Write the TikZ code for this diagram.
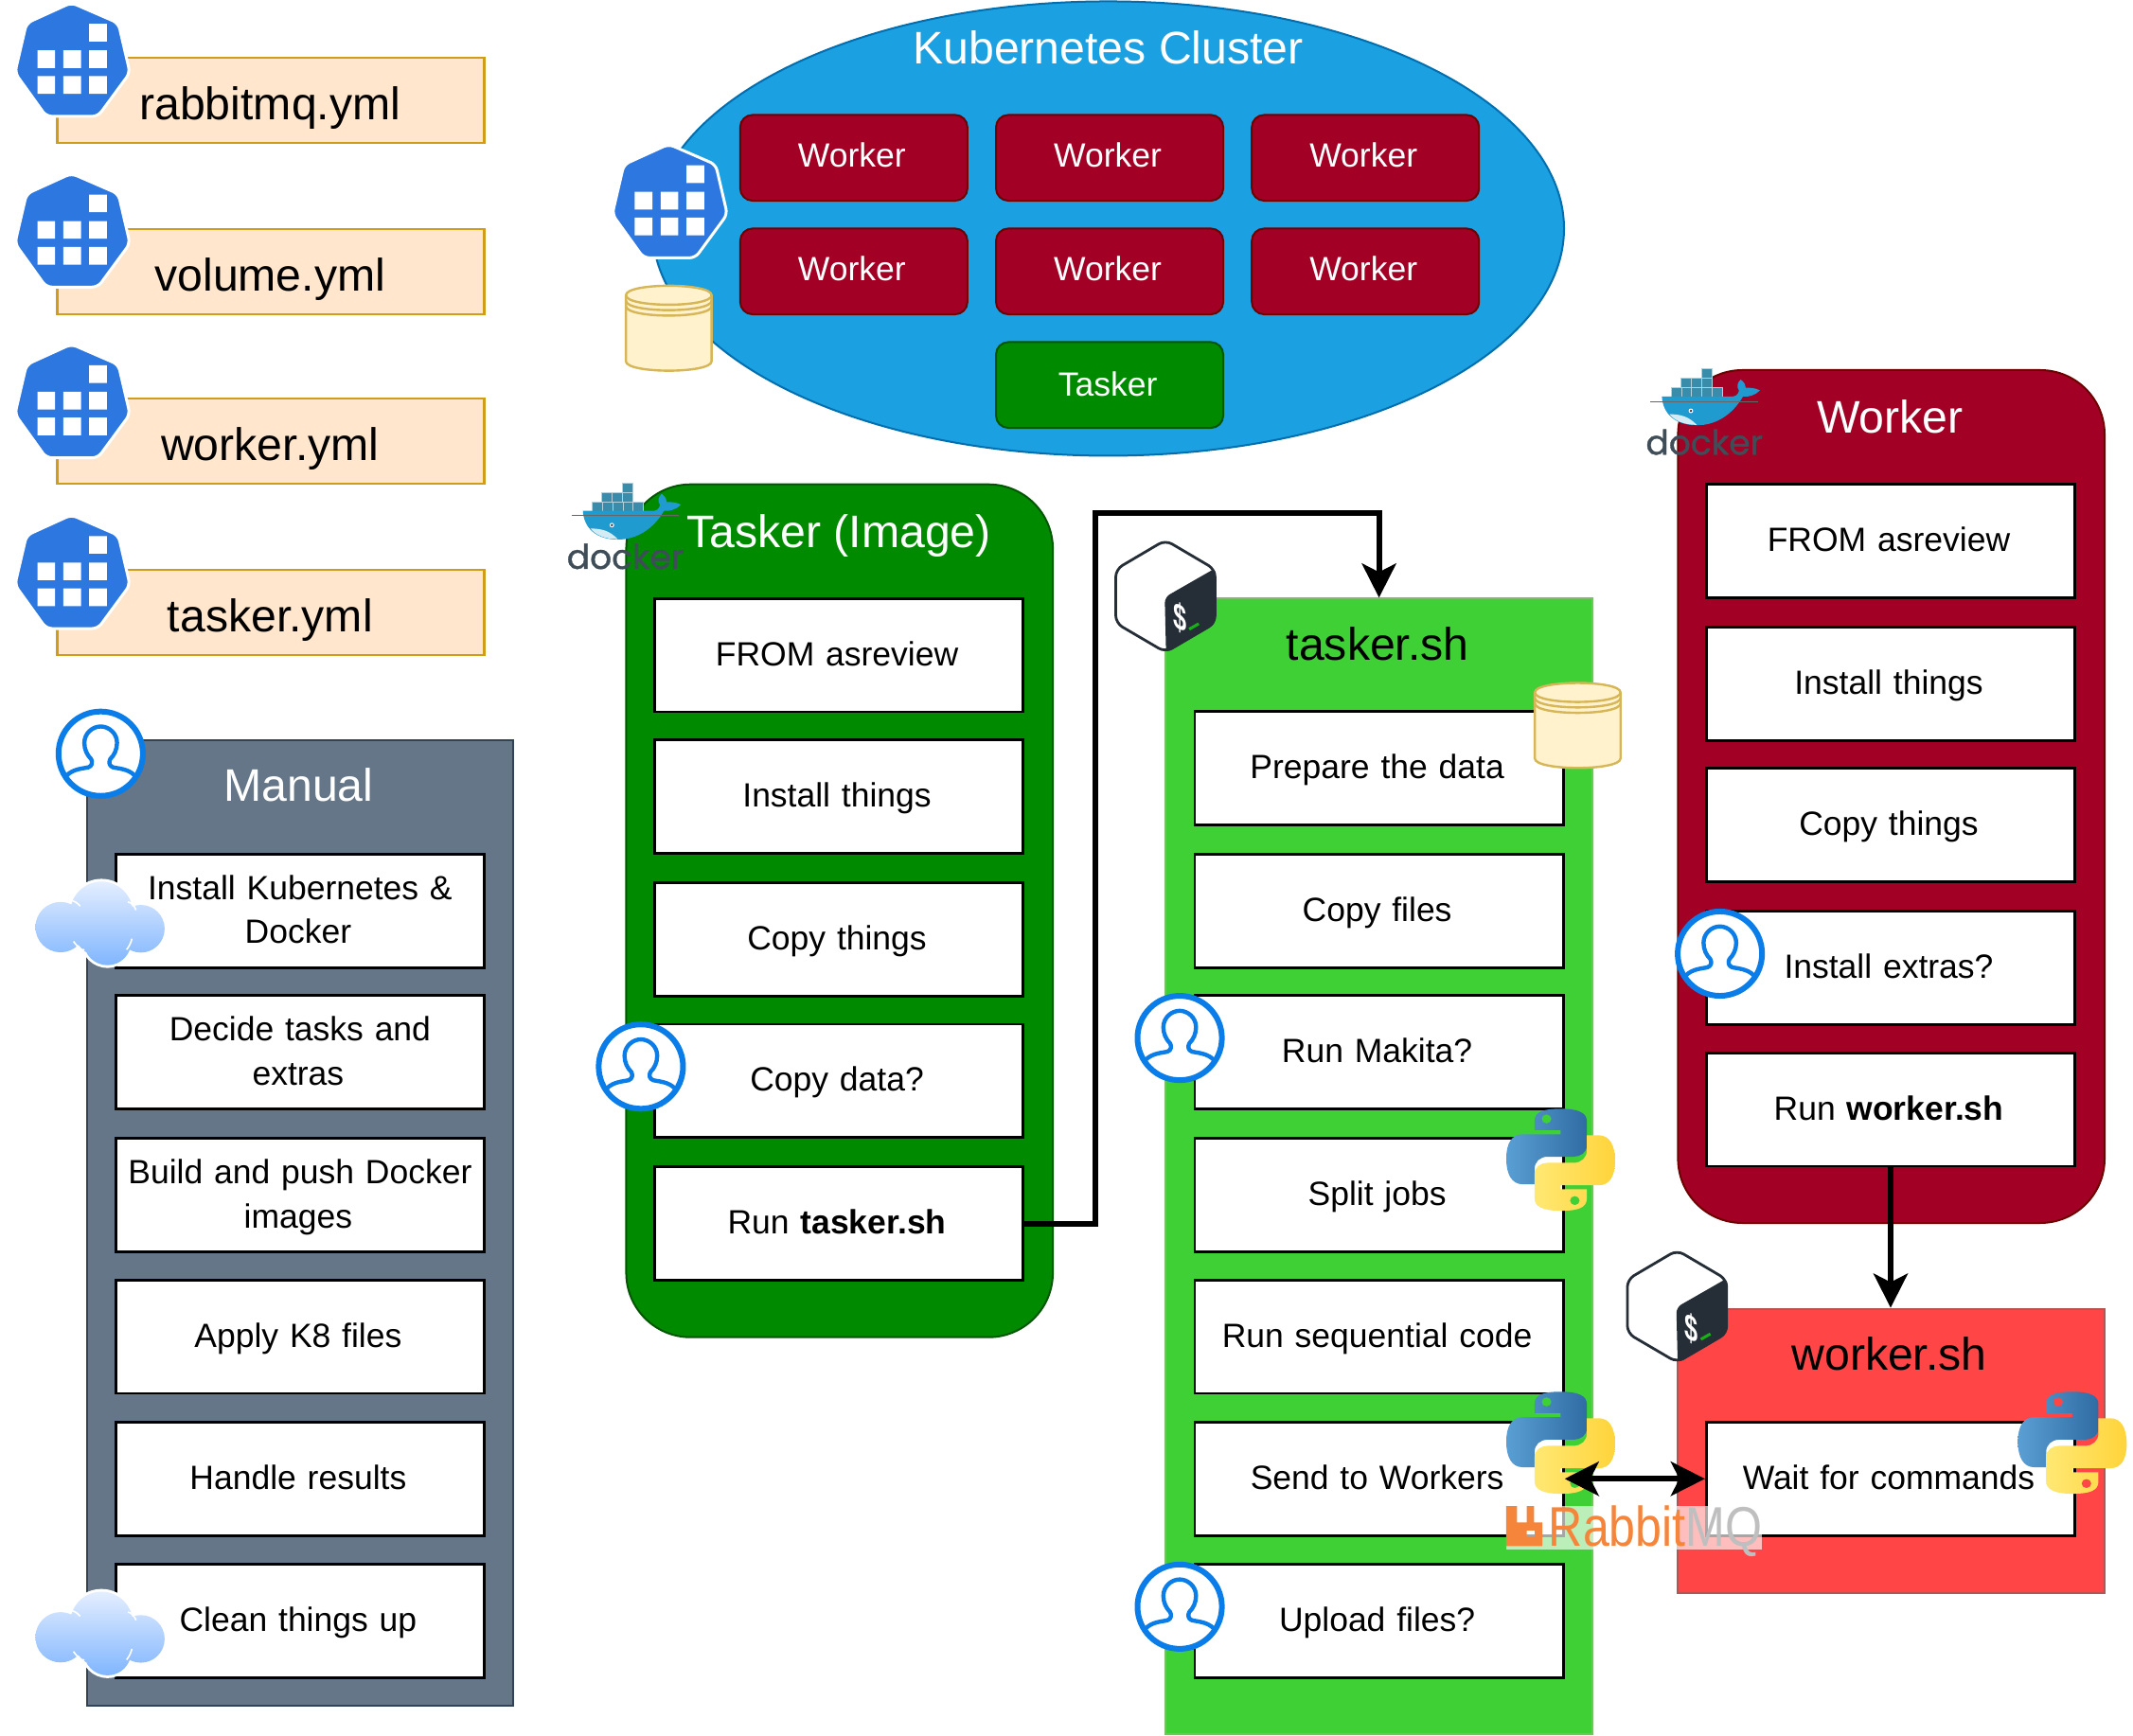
\documentclass[tikz,border=0pt]{standalone}
\usepackage{fontspec}
\setmainfont{Liberation Sans}
\newfontfamily\dockerfont[FakeBold=1]{Poppins}
\usetikzlibrary{arrows.meta,shapes.geometric,calc}
\definecolor{ymlfill}{HTML}{FFE6CC}
\definecolor{ymlline}{HTML}{D09C1A}
\definecolor{clusterfill}{HTML}{1BA1E2}
\definecolor{clusterline}{HTML}{006EAF}
\definecolor{wred}{HTML}{A20025}
\definecolor{wredline}{HTML}{6F0000}
\definecolor{tgreen}{HTML}{008A00}
\definecolor{tgreenline}{HTML}{005700}
\definecolor{shgreen}{HTML}{3FD036}
\definecolor{shgreenline}{HTML}{7FBC6A}
\definecolor{shred}{HTML}{FF4545}
\definecolor{shredline}{HTML}{B85450}
\definecolor{manfill}{HTML}{647687}
\definecolor{manline}{HTML}{314354}
\definecolor{k8blue}{HTML}{2D78E0}
\definecolor{userblue}{HTML}{0A7DE8}
\definecolor{bashdark}{HTML}{252E37}
\definecolor{cylfill}{HTML}{FFF2CC}
\definecolor{cylline}{HTML}{D6B656}
\definecolor{dockblue}{HTML}{1F9BCF}
\definecolor{dockbox}{HTML}{3A8CAB}
\definecolor{dockword}{HTML}{3F4D58}
\definecolor{rabbitor}{HTML}{F5853A}
\definecolor{cloudtop}{HTML}{E4EEFF}
\definecolor{cloudbot}{HTML}{7FB5FF}
\definecolor{pyblueA}{HTML}{5A9FD4}
\definecolor{pyblueB}{HTML}{2F6CA3}
\definecolor{pyyelA}{HTML}{FFE873}
\definecolor{pyyelB}{HTML}{FFD43B}
\newcommand{\bodyfont}{\fontsize{17.75}{22.3}\selectfont}
\newcommand{\titlefont}{\fontsize{24.1}{28}\selectfont}
\newcommand{\stepstrut}{\rule{0pt}{17.8pt}\rule[-6.7pt]{0pt}{6.7pt}}
\newcommand{\trail}{\hspace*{2pt}}
\tikzset{
  panelbase/.style={minimum width=225.3pt,inner sep=0pt,line width=1pt},
  taskerpanel/.style={panelbase,draw=tgreenline,fill=tgreen,rounded corners=34pt,minimum height=450.5pt},
  workerpanel/.style={panelbase,draw=wredline,fill=wred,rounded corners=34pt,minimum height=450.5pt},
  shgreenpanel/.style={panelbase,draw=shgreenline,fill=shgreen,minimum height=600pt},
  shredpanel/.style={panelbase,draw=shredline,fill=shred,minimum height=150.2pt},
  manualpanel/.style={panelbase,draw=manline,fill=manfill,minimum height=510.2pt},
  ymlbox/.style={draw=ymlline,fill=ymlfill,line width=1.1pt,minimum width=225.5pt,minimum height=45pt,inner sep=0pt},
  clusterbox/.style={ellipse,draw=clusterline,fill=clusterfill,line width=1pt,minimum width=481.4pt,minimum height=240pt,inner sep=0pt},
  titlewhite/.style={font=\titlefont,text=white,inner sep=0pt},
  titleblack/.style={font=\titlefont,text=black,inner sep=0pt},
  stepbox/.style={draw=black,fill=white,line width=1.4pt,minimum width=194.7pt,minimum height=59.9pt,inner sep=0pt,text width=186pt,align=center,font=\bodyfont,execute at begin node=\stepstrut,execute at end node=\trail},
  workbox/.style={draw=wredline,fill=wred,text=white,line width=1pt,rounded corners=6.5pt,minimum width=120pt,minimum height=45.3pt,inner sep=0pt,font=\bodyfont,execute at begin node={\rule[-2.8pt]{0pt}{2.8pt}},execute at end node=\trail},
  taskbox/.style={draw=tgreenline,fill=tgreen,text=white,line width=1pt,rounded corners=6.5pt,minimum width=120pt,minimum height=45.3pt,inner sep=0pt,font=\bodyfont,execute at begin node={\rule[-1.4pt]{0pt}{1.4pt}},execute at end node=\trail},
  conn/.style={line width=3pt,-{Stealth[length=18pt,width=18pt,inset=4.5pt]}},
  connboth/.style={line width=3pt,{Stealth[length=18pt,width=18pt,inset=4.5pt]}-{Stealth[length=18pt,width=18pt,inset=4.5pt]}},
  k8s/.pic={
    \path[fill=k8blue,draw=white,line width=1.5pt,rounded corners=3pt]
      (40.5,-1) -- (75,14) -- (83.5,50.5) -- (60,82.5) -- (22,82.5) -- (-1,50.5) -- (7.5,14) -- cycle;
    \fill[white] (53.5,14.5) rectangle (66.5,27.5)
      (15.5,34) rectangle (28.5,47) (34.5,34) rectangle (47.5,47) (53.5,34) rectangle (66.5,47)
      (15.5,53) rectangle (28.5,66) (34.5,53) rectangle (47.5,66) (53.5,53) rectangle (66.5,66);
  },
  usericon/.pic={
    \draw[userblue,fill=white,line width=3pt] (0,0) circle[radius=31];
    \draw[userblue,line width=2.2pt,line join=round]
      (-25,16) .. controls (-20,11) and (-13,11) .. (-9,10)
      .. controls (-6,9) and (-6,6) .. (-7,4)
      .. controls (-10,1) and (-12,-3) .. (-12,-8)
      .. controls (-12,-15) and (-6,-20) .. (0,-20)
      .. controls (6,-20) and (12,-15) .. (12,-8)
      .. controls (12,-3) and (10,1) .. (7,4)
      .. controls (6,6) and (6,9) .. (9,10)
      .. controls (13,11) and (20,11) .. (25,16);
  },
  cloudicon/.pic={
    \fill[white] (18.5,33.5) circle[radius=20] (48.6,23) circle[radius=25] (77.5,34.7) circle[radius=19.5] (53,44) circle[radius=19.5];
    \begin{scope}
      \clip (18.5,33.5) circle[radius=18.5] (48.6,23) circle[radius=23] (77.5,34.7) circle[radius=17.5] (53,44) circle[radius=17.5] (48,35) circle[radius=20];
      \shade[top color=cloudtop,bottom color=cloudbot] (0,0) rectangle (96,62);
    \end{scope}
    \draw[white,line width=.8pt] (28,44) .. controls (34,52) and (36,50) .. (36,50);
    \draw[white,line width=.8pt] (71,42) .. controls (70,46) and (68,49) .. (67,50);
    \draw[white,line width=.8pt] (27,14) .. controls (30,15) and (31,16) .. (33,18);
    \draw[white,line width=.8pt] (68,15) .. controls (70,15) and (73,18) .. (74,21);
  },
  cylinder icon/.pic={
    \path[fill=cylfill,draw=cylline,line width=1.2pt] (0,7) -- (0,55.5) .. controls (0,64.8) and (63,64.8) .. (63,55.5) -- (63,7) .. controls (63,-2.3) and (0,-2.3) .. (0,7) -- cycle;
    \draw[cylline,line width=1.2pt] (0,7) .. controls (0,16.3) and (63,16.3) .. (63,7)
      (0,11) .. controls (0,20.3) and (63,20.3) .. (63,11)
      (0,15) .. controls (0,24.3) and (63,24.3) .. (63,15);
  },
  bashicon/.pic={
    \path[fill=white,draw=bashdark,line width=1.4pt,rounded corners=4pt]
      (36.5,0) -- (73,21.5) -- (73,61) -- (36.5,82.4) -- (0,61) -- (0,21.5) -- cycle;
    \path[fill=bashdark,rounded corners=3pt] (36,42) -- (73.5,20.5) -- (73.5,61.5) -- (37,83) -- cycle;
    \node[text=white,inner sep=0pt,transform shape,xscale=.65,yslant=-.3,font=\fontsize{19.5}{20}\bfseries\selectfont] (dollar) at (47,57.5) {\$};
    \draw[green!65!black!90!white,line width=1.5pt] (54,65.5) -- (61,61.5);
  },
  dockericon/.pic={
    \foreach \cx/\cy in {39.5/0,24.3/7,32/7,39.5/7,17.2/13.8,24.7/13.8,32.2/13.8,39.7/13.8,47.2/13.8}
      \path[fill=dockbox,draw=white!60!dockbox,line width=.3pt] (\cx,\cy) rectangle ++(7.6,6.85);
    \path[fill=dockblue] (10.4,20.4) -- (63,20.4) .. controls (66,20) and (67,17) .. (67,16)
       .. controls (65,13) and (66,10) .. (68.3,8) .. controls (71,10) and (72,12) .. (72,14)
       .. controls (75,14) and (79,14) .. (82.5,16) .. controls (79,19.5) and (74,21) .. (70,20.5)
       .. controls (62,34) and (50,41.6) .. (36,41.6) .. controls (20,41.6) and (11,33) .. (10.4,20.4) -- cycle;
    \fill[white!80!dockblue] (16,33.5) .. controls (24,33.5) and (30,35) .. (36,41.3) .. controls (27,41.3) and (20,38.5) .. (16,33.5) -- cycle;
    \draw[black!60,line width=.4pt] (2,24) -- (81,24);
    \fill[white] (31.7,31) circle[radius=1.7];
    \fill[bashdark] (31.7,31) circle[radius=.9];
    \node[inner sep=0pt,text=dockword,font=\dockerfont\fontsize{18}{19}\selectfont] (word) at (41.6,54) {docker};
  },
  pythonicon/.pic={
    \begin{scope}[xscale=.8,yscale=.75]
      \shade[even odd rule,left color=pyblueA,right color=pyblueB]
        (26,21) -- (26,12) .. controls (26,3) and (34,0) .. (50,0) .. controls (66,0) and (74,4) .. (74,12) -- (74,36) .. controls (74,43) and (68,47) .. (62,47) -- (38,47) .. controls (31,47) and (26,52) .. (26,59) -- (26,74) -- (15,74) .. controls (5,74) and (0,64) .. (0,49) .. controls (0,34) and (5,25) .. (15,25) -- (50,25) -- (50,21) -- cycle
        (37,10) circle[radius=4.5];
      \shade[even odd rule,left color=pyyelA,right color=pyyelB]
        (74,79) -- (74,88) .. controls (74,97) and (66,100) .. (50,100) .. controls (34,100) and (26,96) .. (26,88) -- (26,64) .. controls (26,57) and (32,53) .. (38,53) -- (62,53) .. controls (69,53) and (74,48) .. (74,41) -- (74,26) -- (85,26) .. controls (95,26) and (100,36) .. (100,51) .. controls (100,66) and (95,75) .. (85,75) -- (50,75) -- (50,79) -- cycle
        (63,90) circle[radius=4.5];
    \end{scope}
  },
  rabbiticon/.pic={
    \fill[white,opacity=.65] (0,0) rectangle (188,32);
    \path[fill=rabbitor,even odd rule] (0,0) -- (8,0) -- (8,12) -- (15,12) -- (15,0) -- (20.5,0) -- (20.5,12) -- (26.5,12) -- (26.5,29.5) -- (0,29.5) -- cycle
      (15,18) rectangle (21,22.5);
    \node[anchor=base west,inner sep=0pt,transform shape,xscale=.85,font=\fontsize{29.5}{30}\selectfont] (word) at (31,29.5) {\textcolor{rabbitor}{Rabbit}\textcolor{black!25}{MQ}};
  },
}
\begin{document}
\begin{tikzpicture}[x=.7186pt,y=-.7186pt]
\useasboundingbox (0pt,0pt) rectangle (1126.5pt,-916.5pt);

% yml files
\node[ymlbox] (yr) at (199,74) {};
\node[ymlbox] (yv) at (199,199.5) {};
\node[ymlbox] (yw) at (199,324.5) {};
\node[ymlbox] (yt) at (199,450) {};
\node[titleblack] (yrl) at (198.5,79.5) {rabbitmq.yml};
\node[titleblack] (yvl) at (198.5,205) {volume.yml};
\node[titleblack] (ywl) at (198.5,330) {worker.yml};
\node[titleblack] (ytl) at (198.5,455.5) {tasker.yml};
\pic (k1) at (12,3) {k8s};
\pic (k2) at (12,128.5) {k8s};
\pic (k3) at (12,254) {k8s};
\pic (k4) at (12,379.5) {k8s};

% cluster
\node[clusterbox] (cluster) at (814.5,168) {};
\node[titlewhite] (clustertitle) at (814.5,35) {Kubernetes Cluster};
\node[workbox] (w1) at (627.5,116) {Worker};
\node[workbox] (w2) at (815.5,116) {Worker};
\node[workbox] (w3) at (1003.5,116) {Worker};
\node[workbox] (w4) at (627.5,199.5) {Worker};
\node[workbox] (w5) at (815.5,199.5) {Worker};
\node[workbox] (w6) at (1003.5,199.5) {Worker};
\node[taskbox] (ctask) at (815.5,283) {Tasker};
\pic (k5) at (451,107) {k8s};
\pic (cy1) at (460,210) {cylinder icon};

% tasker image
\node[taskerpanel] (tp) at (617,669.5) {};
\node[titlewhite] (tptitle) at (616.5,394) {Tasker (Image)};
\node[stepbox] (t1) at (616.5,481.5) {FROM asreview};
\node[stepbox] (t2) at (616.5,585.5) {Install things};
\node[stepbox] (t3) at (616.5,690.5) {Copy things};
\node[stepbox] (t4) at (616.5,794.5) {Copy data?};
\node[stepbox] (t5) at (616.5,899.5) {Run \textbf{tasker.sh}};
\pic (d1) at (418,355) {dockericon};
\pic (u1) at (471,784) {usericon};

% tasker.sh
\node[shgreenpanel] (sp) at (1013.5,857.5) {};
\node[titleblack] (sptitle) at (1012.5,473) {tasker.sh};
\node[stepbox] (s1) at (1013.5,564.5) {Prepare the data};
\node[stepbox] (s2) at (1013.5,669.5) {Copy files};
\node[stepbox] (s3) at (1013.5,773.5) {Run Makita?};
\node[stepbox] (s4) at (1013.5,878.5) {Split jobs};
\node[stepbox] (s5) at (1013.5,982.5) {Run sequential code};
\node[stepbox] (s6) at (1013.5,1087) {Send to Workers};
\node[stepbox] (s7) at (1013.5,1191.5) {Upload files?};
\pic (b1) at (820,397) {bashicon};
\pic (cy2) at (1128,502) {cylinder icon};
\pic (u2) at (867,763) {usericon};
\pic (u3) at (867,1181) {usericon};

% worker image
\node[workerpanel] (wp) at (1390,585.5) {};
\node[titlewhite] (wptitle) at (1389,306) {Worker};
\node[stepbox] (r1) at (1389.5,397.5) {FROM asreview};
\node[stepbox] (r2) at (1389.5,502.5) {Install things};
\node[stepbox] (r3) at (1389.5,606.5) {Copy things};
\node[stepbox] (r4) at (1389.5,711.5) {Install extras?};
\node[stepbox] (r5) at (1389.5,815.5) {Run \textbf{worker.sh}};
\pic (d2) at (1211,271) {dockericon};
\pic (u4) at (1264,701) {usericon};

% worker.sh
\node[shredpanel] (xp) at (1390,1066.5) {};
\node[titleblack] (xptitle) at (1388.5,995) {worker.sh};
\node[stepbox] (x1) at (1389.5,1087) {Wait for commands};
\pic (b2) at (1196,919) {bashicon};

% manual
\node[manualpanel] (mp) at (220.5,899) {};
\node[titlewhite] (mptitle) at (219.5,577) {Manual};
\node[stepbox] (m1) at (220.5,669.5) {Install Kubernetes \&\trail\\\strut Docker};
\node[stepbox] (m2) at (220.5,773.5) {Decide tasks and\trail\\\strut extras};
\node[stepbox] (m3) at (220.5,878.5) {Build and push Docker\trail\\\strut images};
\node[stepbox] (m4) at (220.5,982.5) {Apply K8 files};
\node[stepbox] (m5) at (220.5,1087) {Handle results};
\node[stepbox] (m6) at (220.5,1191.5) {Clean things up};
\pic (u5) at (74,554) {usericon};
\pic (c1) at (26,648) {cloudicon};
\pic (c2) at (26,1170) {cloudicon};

% python logos
\pic (p1) at (1107,815) {pythonicon};
\pic (p2) at (1107,1023) {pythonicon};
\pic (p3) at (1483,1023) {pythonicon};

% connectors
\coordinate (bend) at (805,377);
\draw[conn] (t5.east) -- (t5.east -| bend) -- (bend) -- (bend -| sp.north) -- (sp.north);
\draw[conn] (r5.south) -- (r5.south |- xp.north);
\draw[connboth] (s6.east) -- (x1.west);

\pic (rb) at (1107,1107) {rabbiticon};
\end{tikzpicture}
\end{document}
